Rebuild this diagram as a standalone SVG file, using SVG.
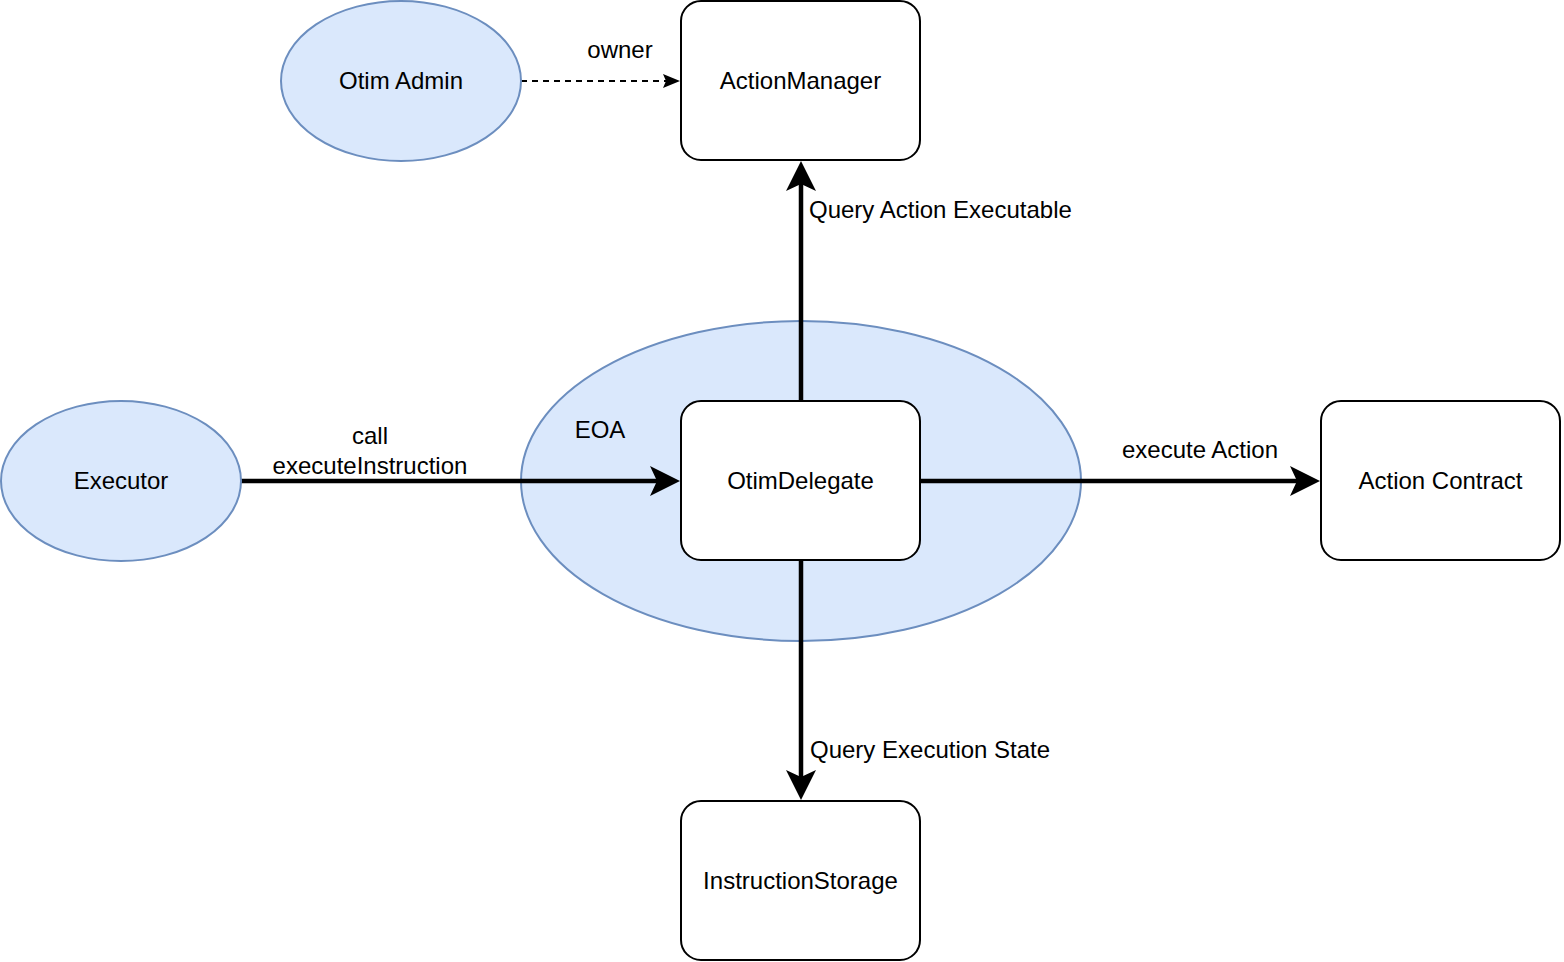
<svg xmlns="http://www.w3.org/2000/svg" width="1564" height="962" viewBox="0 0 1564 962">
<style>
.ell{fill:#dae8fc;stroke:#6c8ebf;stroke-width:2}
.box{fill:#ffffff;stroke:#000000;stroke-width:2}
.t{font-family:"Liberation Sans",Arial,Helvetica,sans-serif;font-size:24px;fill:#000000}
.c{text-anchor:middle}
.thick{stroke:#000;stroke-width:4.5;fill:none}
.dash{stroke:#000;stroke-width:2;fill:none;stroke-dasharray:6 5}
</style>
<defs>
<marker id="big" markerUnits="userSpaceOnUse" orient="auto" markerWidth="60" markerHeight="60" refX="0" refY="0" viewBox="-30 -30 60 60" overflow="visible">
<path d="M23,0 L-7,-15 L0,0 L-7,15 Z" fill="#000"/>
</marker>
<marker id="small" markerUnits="userSpaceOnUse" orient="auto" markerWidth="30" markerHeight="30" refX="0" refY="0" viewBox="-15 -15 30 30" overflow="visible">
<path d="M14,0 L-3,-7 L0,0 L-3,7 Z" fill="#000"/>
</marker>
</defs>
<rect width="1564" height="962" fill="#ffffff"/>
<g id="eoa"><ellipse class="ell" cx="801" cy="481" rx="280" ry="160"/><text class="t c" x="600" y="438">EOA</text></g>
<g id="connectors">
<line class="dash" x1="521" y1="81" x2="666" y2="81" marker-end="url(#small)"/>
<line class="thick" x1="801" y1="401" x2="801" y2="184" marker-end="url(#big)"/>
<line class="thick" x1="241" y1="481" x2="657" y2="481" marker-end="url(#big)"/>
<line class="thick" x1="921" y1="481" x2="1297" y2="481" marker-end="url(#big)"/>
<line class="thick" x1="801" y1="561" x2="801" y2="777" marker-end="url(#big)"/>
<text class="t c" x="620" y="58">owner</text>
<text class="t" x="809" y="218">Query Action Executable</text>
<text class="t c" x="370" y="444">call</text>
<text class="t c" x="370" y="474">executeInstruction</text>
<text class="t c" x="1200" y="458">execute Action</text>
<text class="t" x="810" y="758">Query Execution State</text>
</g>
<g id="otim-admin"><ellipse class="ell" cx="401" cy="81" rx="120" ry="80"/><text class="t c" x="401" y="89">Otim Admin</text></g>
<g id="executor"><ellipse class="ell" cx="121" cy="481" rx="120" ry="80"/><text class="t c" x="121" y="489">Executor</text></g>
<g id="action-manager"><rect class="box" x="681" y="1" width="239" height="159" rx="20" ry="20"/><text class="t c" x="800.5" y="89">ActionManager</text></g>
<g id="otim-delegate"><rect class="box" x="681" y="401" width="239" height="159" rx="20" ry="20"/><text class="t c" x="800.5" y="489">OtimDelegate</text></g>
<g id="action-contract"><rect class="box" x="1321" y="401" width="239" height="159" rx="20" ry="20"/><text class="t c" x="1440.5" y="489">Action Contract</text></g>
<g id="instruction-storage"><rect class="box" x="681" y="801" width="239" height="159" rx="20" ry="20"/><text class="t c" x="800.5" y="889">InstructionStorage</text></g>
</svg>
